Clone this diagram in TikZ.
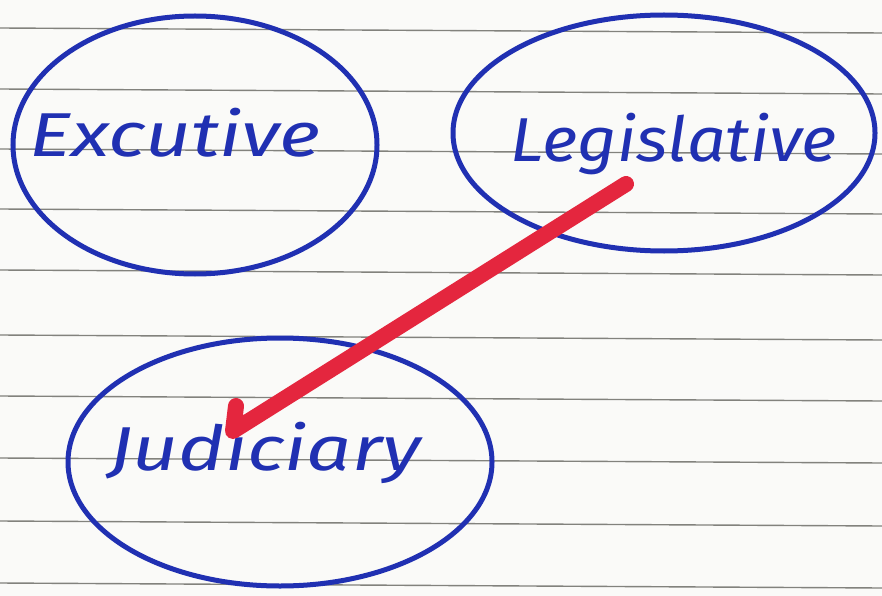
\documentclass[tikz,border=0pt]{standalone}
\usepackage{fontspec}
\setmainfont{Fira Sans}
\usetikzlibrary{shapes.geometric}
\definecolor{ink}{RGB}{32,48,178}
\definecolor{redink}{RGB}{228,38,62}
\definecolor{paper}{RGB}{250,250,248}
\definecolor{rule}{RGB}{130,130,125}
\tikzset{
  ell/.style={draw=ink, line width=5pt, ellipse, inner sep=0pt},
  hand/.style={text=ink, font=\fontsize{62}{62}\selectfont\itshape, inner sep=0pt, anchor=base},
  ruling/.style={draw=rule, line width=1.4pt},
  redarrow/.style={draw=redink, line width=16pt, line cap=round, line join=round}
}
\begin{document}
\begin{tikzpicture}[x=1pt,y=-1pt]
\useasboundingbox (0,0) rectangle (882,596);
\fill[paper] (0,0) rectangle (882,596);
% ruled lines
\foreach \yy in {28,89,149,209,270,335,396,458,521,583}
  \draw[ruling] (0,\yy) -- (882,\yy+5);
% ellipses
\node[ell, minimum width=364pt, minimum height=258pt] (exe) at (195,145) {};
\node[ell, minimum width=422pt, minimum height=236pt] (leg) at (664,133) {};
\node[ell, minimum width=424pt, minimum height=248pt] (jud) at (280,462) {};
% labels
\node[hand] (exet) at (175,157) {\scalebox{1.28}[1]{Excutive}};
\node[hand] (legt) at (674,161) {\scalebox{1.10}[1]{Legislative}};
\node[hand] (judt) at (265,470) {\scalebox{1.28}[1]{Judiciary}};
% red arrow
\coordinate (s) at (626,184);
\coordinate (t) at (233,431);
\coordinate (h) at (236,406);
\draw[redarrow] (s) -- (t) -- (h);
\end{tikzpicture}
\end{document}
